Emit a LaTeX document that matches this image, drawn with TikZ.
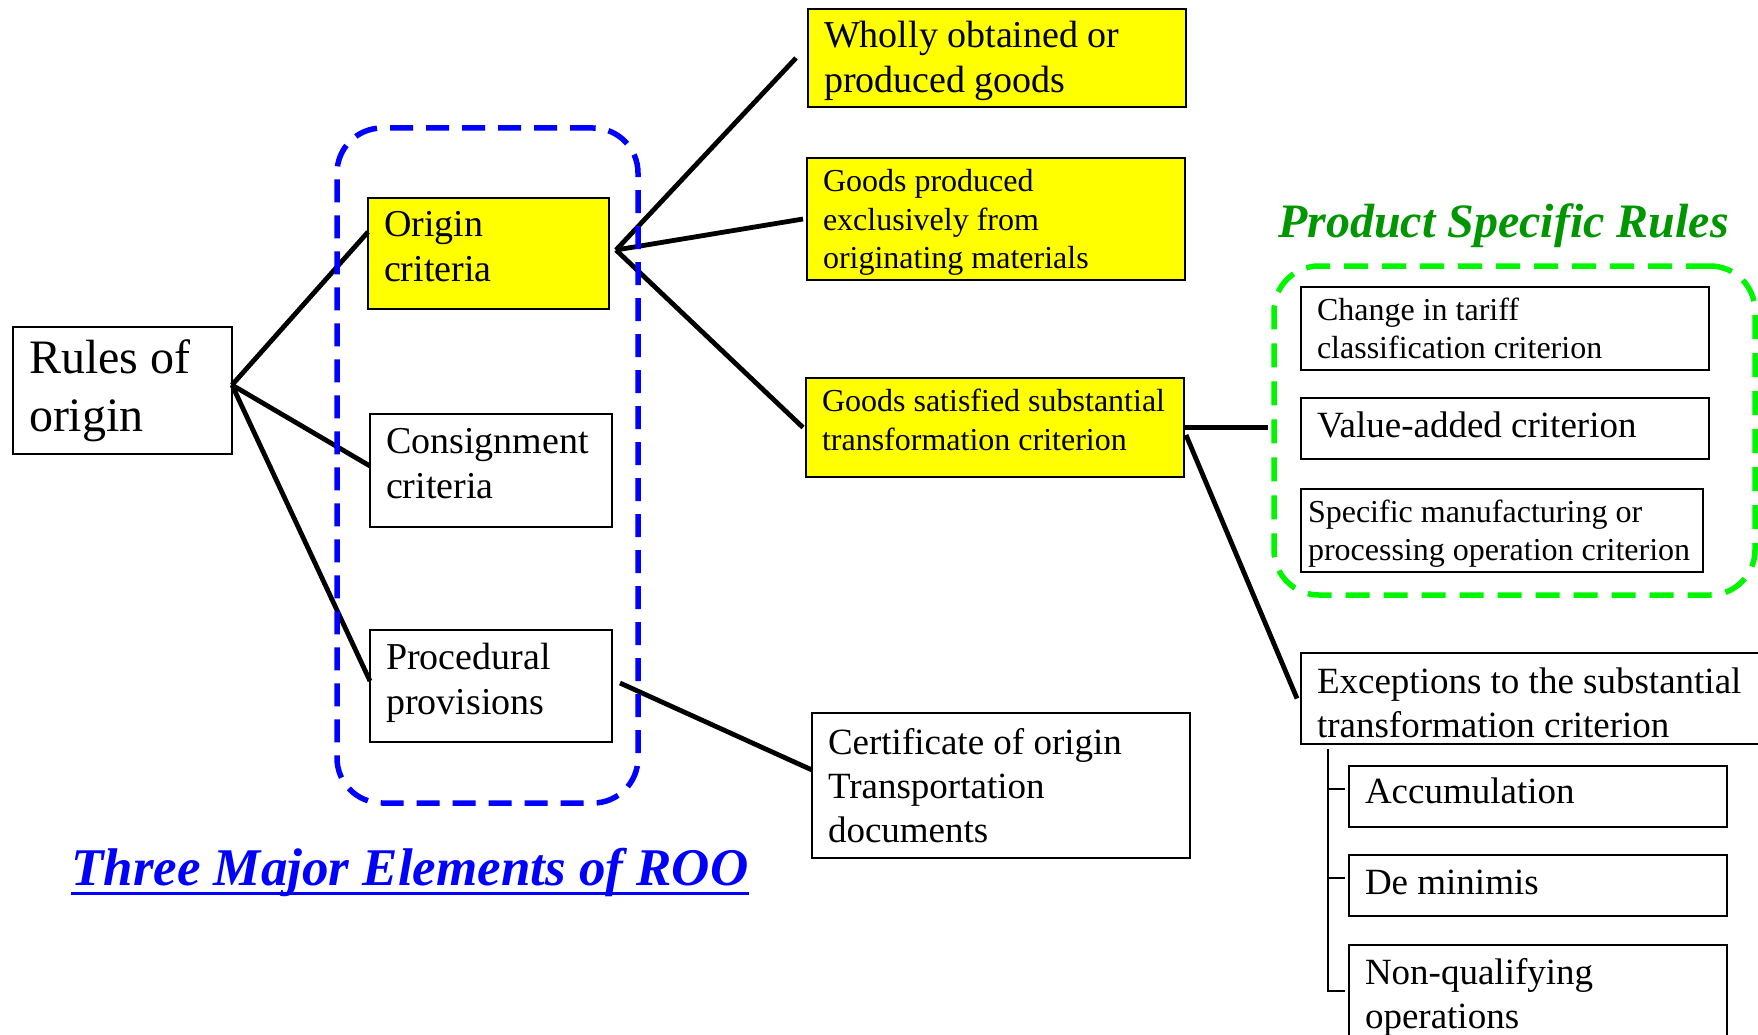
\documentclass[tikz,border=0pt]{standalone}
\usepackage{fontspec}
\setmainfont{Liberation Serif}
\usetikzlibrary{calc}

\definecolor{roayellow}{RGB}{255,255,0}
\definecolor{roablue}{RGB}{0,0,255}
\definecolor{psrgreen}{RGB}{0,245,0}
\definecolor{titlegreen}{RGB}{0,150,0}

% font size with explicit leading
\newcommand\fsz[2]{\fontsize{#1pt}{#2pt}\selectfont}

\tikzset{
  box/.style={draw=black, line width=2.6pt, rectangle, outer sep=0pt,
              inner xsep=16pt, inner ysep=0pt, align=flush left, anchor=center},
  hl/.style={box, fill=roayellow},
  big/.style={font={\fsz{48}{58}}},
  mid/.style={font={\fsz{38}{45}}},
  med/.style={font={\fsz{37}{44}}},
  small/.style={font={\fsz{32}{38.3}}},
  link/.style={line width=4.8pt},
  brace/.style={line width=2.8pt},
  group/.style={rectangle, rounded corners=45pt, outer sep=0pt, line width=5.5pt}
}

\begin{document}
\begin{tikzpicture}[x=1pt, y=-1pt]
  \fill[white] (0,0) rectangle (1758,1035);
  \useasboundingbox (0,0) rectangle (1758,1035);

  % root
  \node[box, big, minimum width=219pt, minimum height=127pt, text width=187pt] (rules)
    at (122.5,390.5) {Rules of\\origin};

  % three major elements
  \node[hl, mid, minimum width=241pt, minimum height=111pt, text width=209pt, text depth=58.5pt] (origin)
    at (488.5,253.5) {Origin\\criteria};
  \node[box, mid, minimum width=242pt, minimum height=113pt, text width=210pt, text depth=58.5pt] (consign)
    at (491,470.5) {Consignment\\criteria};
  \node[box, mid, minimum width=242pt, minimum height=112pt, text width=210pt, text depth=60pt] (proc)
    at (491,686) {Procedural\\provisions};

  % origin criteria branches
  \node[hl, mid, minimum width=378pt, minimum height=98pt, text width=346pt, text depth=46.5pt] (wholly)
    at (997,58) {Wholly obtained or\\produced goods};
  \node[hl, small, minimum width=378pt, minimum height=122pt, text width=346pt, text depth=76.6pt] (gprod)
    at (996,219) {Goods produced\\exclusively from\\originating materials};
  \node[hl, small, minimum width=378pt, minimum height=99pt, text width=346pt, text depth=54pt] (gsat)
    at (995,427.5) {Goods satisfied substantial\\transformation criterion};

  % procedural documents
  \node[box, med, minimum width=378pt, minimum height=145pt, text width=346pt] (cert)
    at (1001,785.5) {Certificate of origin\\Transportation\\documents};

  % product specific rules
  \node[box, small, minimum width=408pt, minimum height=83pt, text width=376pt] (tariff)
    at (1505,328.5) {Change in tariff\\classification criterion};
  \node[box, med, minimum width=408pt, minimum height=61pt, text width=376pt, text depth=7pt] (value)
    at (1505,428.5) {Value-added criterion};
  \node[box, small, inner xsep=7pt, minimum width=402pt, minimum height=83pt, text width=388pt, text depth=39.3pt] (spec)
    at (1502,530.5) {Specific manufacturing or\\processing operation criterion};

  % exceptions
  \node[box, med, minimum width=479pt, minimum height=91pt, text width=447pt, text depth=36pt] (except)
    at (1540.5,698.5) {Exceptions to the substantial\\transformation criterion};
  \node[box, med, minimum width=378pt, minimum height=61pt, text width=346pt, text depth=11pt] (accum)
    at (1538,796.5) {Accumulation};
  \node[box, med, minimum width=378pt, minimum height=61pt, text width=346pt, text depth=7pt] (demin)
    at (1538,885.5) {De minimis};
  \node[box, med, minimum width=378pt, minimum height=105pt, text width=346pt] (nonq)
    at (1538,997.5) {Non-qualifying\\operations};

  % connectors from the root
  \draw[link] ([yshift=5.5pt]rules.east) -- ([yshift=21.5pt]origin.west);
  \draw[link] ([yshift=5.5pt]rules.east) -- ([yshift=4.5pt]consign.west);
  \draw[link] ([yshift=5.5pt]rules.east) -- ([yshift=5pt]proc.west);

  % fan out of origin criteria
  \coordinate (ofan) at ([xshift=7pt,yshift=3.5pt]origin.east);
  \draw[link] (ofan) -- ([xshift=-12pt]wholly.west);
  \draw[link] (ofan) -- ([xshift=-4pt]gprod.west);
  \draw[link] (ofan) -- ([xshift=-3pt]gsat.west);

  % procedural provisions to documents
  \draw[link] ([xshift=8pt,yshift=3pt]proc.east) -- ([yshift=15.5pt]cert.west);

  % grouping frames
  \node[group, draw=roablue, dash pattern=on 23pt off 13pt,
        minimum width=301pt, minimum height=675pt] (elements) at (487.5,465.5) {};
  \node[group, draw=psrgreen, dash pattern=on 24pt off 14pt,
        minimum width=481pt, minimum height=329pt] (psrbox) at (1514.5,430.5) {};

  % substantial transformation links
  \coordinate (psrin) at ([xshift=-6pt]psrbox.west);
  \draw[link] (gsat.east) -- (gsat.east -| psrin);
  \draw[link] ([xshift=2pt,yshift=-7.5pt]gsat.east) -- ([xshift=-4pt]except.west);

  % bracket of exceptions
  \coordinate (brk) at ([xshift=27pt,yshift=-5pt]except.south west);
  \coordinate (acct) at ([xshift=-4pt,yshift=7.5pt]accum.west);
  \coordinate (demt) at ([xshift=-4pt,yshift=7.5pt]demin.west);
  \coordinate (nonqt) at ([xshift=-4pt,yshift=-46pt]nonq.north west);
  \draw[brace] (brk) |- (nonqt);
  \draw[brace] (acct) -- (acct -| brk);
  \draw[brace] (demt) -- (demt -| brk);

  % headings
  \node[anchor=base west, inner sep=0pt, text=roablue,
        font={\fsz{53}{64}\bfseries\itshape}] (roo) at (71,885) {Three Major Elements of ROO};
  \draw[roablue, line width=3pt] ([yshift=-8pt]roo.base west) -- ([yshift=-8pt]roo.base east);
  \node[anchor=base west, inner sep=0pt, text=titlegreen,
        font={\fsz{48}{58}\bfseries\itshape}] (psr) at (1278,237) {Product Specific Rules};
\end{tikzpicture}
\end{document}
